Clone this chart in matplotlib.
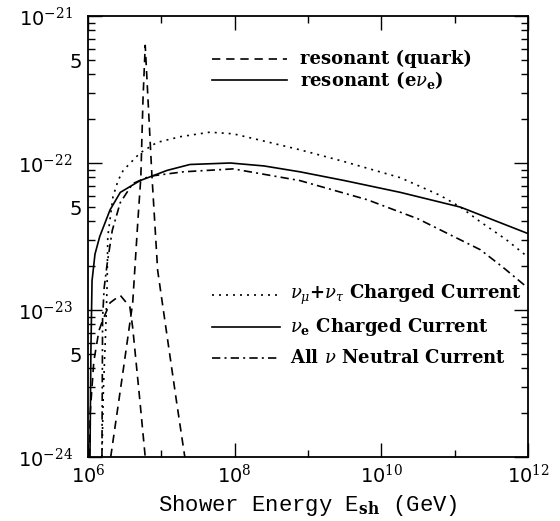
import matplotlib
matplotlib.use("Agg")
import matplotlib.pyplot as plt
from matplotlib.ticker import FixedLocator, FuncFormatter, NullFormatter
import numpy as np

plt.rcParams['mathtext.fontset'] = 'dejavuserif'

# nu_e charged current (solid)
e_nue = [1.064e6, 1.096e6, 1.135e6, 1.245e6, 1.445e6, 1.995e6, 2.754e6, 5.129e6, 1.202e7,
         2.455e7, 8.71e7, 2.51e8, 7.76e8, 3.16e9, 1.82e10, 1.20e11, 1e12]
f_nue = [1.0e-24, 5.37e-24, 1.58e-23, 2.40e-23, 3.16e-23, 4.79e-23, 6.31e-23, 7.59e-23, 8.91e-23,
         9.77e-23, 1.0e-22, 9.55e-23, 8.71e-23, 7.59e-23, 6.31e-23, 5.01e-23, 3.31e-23]

# nu_mu + nu_tau charged current (dotted)
e_numutau = [1.55e6, 1.62e6, 1.74e6, 1.82e6, 1.86e6, 2.19e6, 2.57e6, 3.02e6, 5.13e6, 8.71e6, 1.82e7,
             4.57e7, 9.55e7, 2.51e8, 7.76e8, 3.16e9, 1.82e10, 6.31e10, 1.20e11, 2.24e11, 5.01e11, 1e12]
f_numutau = [1.0e-24, 2.82e-24, 7.08e-24, 1.45e-23, 3.16e-23, 5.89e-23, 7.59e-23, 8.91e-23, 1.17e-22,
             1.38e-22, 1.51e-22, 1.62e-22, 1.58e-22, 1.41e-22, 1.23e-22, 1.02e-22, 7.94e-23, 6.03e-23,
             5.01e-23, 3.98e-23, 3.02e-23, 2.29e-23]

# all nu neutral current (dash-dot)
e_nc = [1.55e6, 1.58e6, 1.66e6, 1.82e6, 2.14e6, 2.75e6, 4.07e6, 6.92e6, 2.0e7, 9.55e7, 7.76e8,
        6.46e9, 3.16e10, 2.24e11, 4.57e11, 1e12]
f_nc = [1e-24, 8.71e-24, 1.41e-23, 2.04e-23, 3.47e-23, 5.37e-23, 7.24e-23, 8.13e-23, 8.71e-23,
        9.12e-23, 7.59e-23, 5.62e-23, 4.17e-23, 2.57e-23, 1.95e-23, 1.41e-23]

# resonant bump (dashed)
e_bump = [1.047e6, 1.072e6, 1.20e6, 1.41e6, 1.585e6, 2.0e6, 2.75e6, 3.72e6, 4.07e6, 5.13e6, 6.03e6]
f_bump = [1e-24, 2.0e-24, 4.47e-24, 7.24e-24, 8.51e-24, 1.12e-23, 1.26e-23, 1.05e-23, 7.59e-24,
          2.34e-24, 1e-24]

# resonant spike (dashed)
e_spike = [2.04e6, 3.02e6, 4.07e6, 4.79e6, 5.25e6, 5.62e6, 6.03e6, 6.31e6, 7.41e6, 8.91e6,
           1.20e7, 1.62e7, 2.09e7]
f_spike = [1e-24, 3.89e-24, 1.12e-23, 4.07e-23, 7.94e-23, 2.69e-22, 6.31e-22, 4.07e-22, 8.51e-23,
           1.86e-23, 6.61e-24, 2.34e-24, 1e-24]

upper_labels = ["resonant (quark)", r"resonant (e$\nu_{\mathbf{e}}$)"]
lower_labels = [r"$\nu_\mu$+$\nu_\tau$ Charged Current", r"$\nu_{\mathbf{e}}$ Charged Current",
                r"All $\nu$ Neutral Current"]

dash = (0, (5, 3.5))
dot = (0, (1.2, 3))
dashdot = (0, (5, 2.5, 1.2, 2.5))

fig = plt.figure(figsize=(5.6, 5.21), dpi=100)
ax = fig.add_axes([88/560, 1-457/521, 440/560, 441/521])

lw = 1.2
ax.plot(e_nue, f_nue, color='k', lw=lw, ls='-')
ax.plot(e_numutau, f_numutau, color='k', lw=lw, ls=dot)
ax.plot(e_nc, f_nc, color='k', lw=lw, ls=dashdot)
ax.plot(e_bump, f_bump, color='k', lw=lw, ls=dash)
ax.plot(e_spike, f_spike, color='k', lw=lw, ls=dash)

ax.set_xscale('log')
ax.set_yscale('log')
ax.set_xlim(1e6, 1e12)
ax.set_ylim(1e-24, 1e-21)

# ticks
ax.xaxis.set_major_locator(FixedLocator([1e6, 1e8, 1e10, 1e12]))
ax.xaxis.set_minor_locator(FixedLocator([1e7, 1e9, 1e11]))
ax.xaxis.set_minor_formatter(NullFormatter())
ax.yaxis.set_major_locator(FixedLocator([1e-24, 1e-23, 1e-22, 1e-21]))
yminor = [m * 10.0**k for k in (-24, -23, -22) for m in range(2, 10)]
ax.yaxis.set_minor_locator(FixedLocator(yminor))

def pow_fmt(v, pos):
    return r"10$^{%d}$" % int(round(np.log10(v)))

def five_fmt(v, pos):
    m = v / 10.0**np.floor(np.log10(v) + 1e-9)
    return "5" if abs(m - 5) < 0.01 else ""

ax.xaxis.set_major_formatter(FuncFormatter(pow_fmt))
ax.yaxis.set_major_formatter(FuncFormatter(pow_fmt))
ax.yaxis.set_minor_formatter(FuncFormatter(five_fmt))

ax.tick_params(which='both', direction='in', top=True, right=True, width=1.0)
ax.tick_params(which='major', length=10, labelsize=14)
ax.tick_params(which='minor', length=5, labelsize=14)
ax.tick_params(axis='y', which='major', pad=11)
ax.tick_params(axis='y', which='minor', pad=4)
ax.tick_params(axis='x', which='both', pad=5)
for lab in ax.get_xticklabels() + ax.get_yticklabels() + ax.get_yticklabels(minor=True):
    lab.set_fontfamily('DejaVu Sans')
for s in ax.spines.values():
    s.set_linewidth(1.3)

ax.set_xlabel(r"Shower Energy E$_{\mathbf{sh}}$ (GeV)", fontfamily='Liberation Mono',
              fontsize=16, labelpad=4)

# legends drawn by hand
tr = ax.transAxes
for y, style, label in zip([0.902, 0.855], [dash, '-'], upper_labels):
    ax.plot([0.282, 0.452], [y, y], color='k', lw=lw, ls=style, transform=tr)
    ax.text(0.482, y, label, transform=tr, va='center', ha='left', fontsize=13,
            fontweight='bold', fontfamily='DejaVu Serif')
for y, style, label in zip([0.367, 0.295, 0.224], [dot, '-', dashdot], lower_labels):
    ax.plot([0.282, 0.436], [y, y], color='k', lw=lw, ls=style, transform=tr)
    ax.text(0.459, y, label, transform=tr, va='center', ha='left', fontsize=13,
            fontweight='bold', fontfamily='DejaVu Serif')

fig.savefig("out.png", dpi=100)
